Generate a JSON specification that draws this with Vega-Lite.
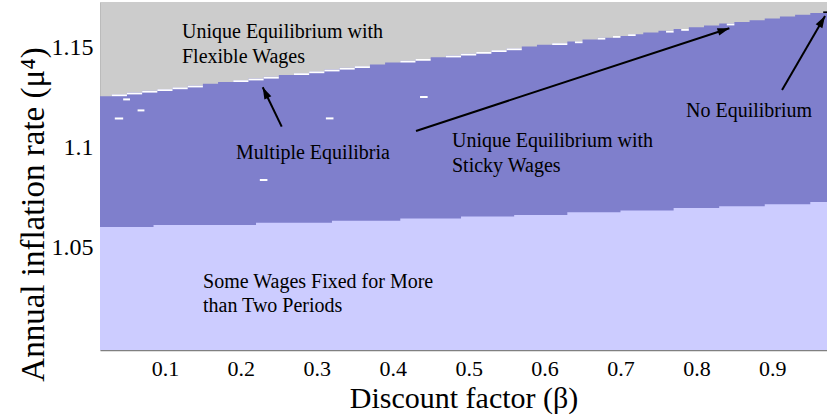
{
  "$schema": "https://vega.github.io/schema/vega-lite/v6.json",
  "width": 727,
  "height": 348,
  "autosize": "none",
  "padding": {"left": 100, "top": 2, "right": 0, "bottom": 66},
  "background": "white",
  "config": {
    "view": {"stroke": null, "fill": "#cccccc"},
    "font": "Liberation Serif",
    "axis": {"ticks": false, "tickSize": 0, "grid": false, "labelFont": "Liberation Serif", "labelFontSize": 22, "labelColor": "black",
      "titleFont": "Liberation Serif", "titleFontWeight": "normal", "titleColor": "black", "labelFlush": false, "labelOverlap": false},
    "axisX": {"labelPadding": 8, "domainColor": "#808080", "domainWidth": 1.5, "titleFontSize": 30, "titleY": 57, "titleBaseline": "alphabetic"},
    "axisY": {"labelPadding": 7, "labelFontSize": 24, "domainColor": "#aaaaaa", "domainDash": [1, 1], "titleFontSize": 33, "titleX": -57, "titleY": 212,
      "titleBaseline": "alphabetic", "titleAlign": "center", "titleAngle": -90}
  },
  "datasets": {
    "upper": [
      {"beta": 0.01, "mu": 1.1255}, {"beta": 0.03, "mu": 1.1264}, {"beta": 0.05, "mu": 1.1273}, {"beta": 0.07, "mu": 1.1282},
      {"beta": 0.09, "mu": 1.1290}, {"beta": 0.11, "mu": 1.1299}, {"beta": 0.13, "mu": 1.1308}, {"beta": 0.15, "mu": 1.1317},
      {"beta": 0.17, "mu": 1.1326}, {"beta": 0.19, "mu": 1.1335}, {"beta": 0.21, "mu": 1.1343}, {"beta": 0.23, "mu": 1.1352},
      {"beta": 0.25, "mu": 1.1361}, {"beta": 0.27, "mu": 1.1370}, {"beta": 0.29, "mu": 1.1379}, {"beta": 0.31, "mu": 1.1388},
      {"beta": 0.33, "mu": 1.1397}, {"beta": 0.35, "mu": 1.1405}, {"beta": 0.37, "mu": 1.1414}, {"beta": 0.39, "mu": 1.1423},
      {"beta": 0.41, "mu": 1.1432}, {"beta": 0.43, "mu": 1.1441}, {"beta": 0.45, "mu": 1.1450}, {"beta": 0.47, "mu": 1.1458},
      {"beta": 0.49, "mu": 1.1467}, {"beta": 0.51, "mu": 1.1476}, {"beta": 0.53, "mu": 1.1485}, {"beta": 0.55, "mu": 1.1494},
      {"beta": 0.57, "mu": 1.1503}, {"beta": 0.59, "mu": 1.1512}, {"beta": 0.61, "mu": 1.1520}, {"beta": 0.63, "mu": 1.1529},
      {"beta": 0.65, "mu": 1.1538}, {"beta": 0.67, "mu": 1.1547}, {"beta": 0.69, "mu": 1.1556}, {"beta": 0.71, "mu": 1.1565},
      {"beta": 0.73, "mu": 1.1573}, {"beta": 0.75, "mu": 1.1582}, {"beta": 0.77, "mu": 1.1591}, {"beta": 0.79, "mu": 1.1600},
      {"beta": 0.81, "mu": 1.1609}, {"beta": 0.83, "mu": 1.1618}, {"beta": 0.85, "mu": 1.1626}, {"beta": 0.87, "mu": 1.1635},
      {"beta": 0.89, "mu": 1.1644}, {"beta": 0.91, "mu": 1.1653}, {"beta": 0.93, "mu": 1.1662}, {"beta": 0.95, "mu": 1.1671},
      {"beta": 0.97, "mu": 1.1679}, {"beta": 0.99, "mu": 1.1679}
    ],
    "lower": [
      {"beta": 0.01, "mu": 1.0601}, {"beta": 0.085, "mu": 1.0611}, {"beta": 0.22, "mu": 1.0622}, {"beta": 0.32, "mu": 1.0632},
      {"beta": 0.41, "mu": 1.0644}, {"beta": 0.49, "mu": 1.0654}, {"beta": 0.56, "mu": 1.0661}, {"beta": 0.63, "mu": 1.0675},
      {"beta": 0.70, "mu": 1.0684}, {"beta": 0.77, "mu": 1.0696}, {"beta": 0.83, "mu": 1.0705}, {"beta": 0.89, "mu": 1.0715},
      {"beta": 0.95, "mu": 1.0726}, {"beta": 0.99, "mu": 1.0726}
    ],
    "cells": [
      {"kind": "multiple", "b1": 0.03, "b2": 0.05, "m1": 1.1255, "m2": 1.1264},
      {"kind": "multiple", "b1": 0.05, "b2": 0.07, "m1": 1.1264, "m2": 1.1273},
      {"kind": "multiple", "b1": 0.07, "b2": 0.09, "m1": 1.1273, "m2": 1.1282},
      {"kind": "multiple", "b1": 0.09, "b2": 0.11, "m1": 1.1281, "m2": 1.1290},
      {"kind": "multiple", "b1": 0.11, "b2": 0.13, "m1": 1.1290, "m2": 1.1299},
      {"kind": "multiple", "b1": 0.13, "b2": 0.15, "m1": 1.1299, "m2": 1.1308},
      {"kind": "multiple", "b1": 0.19, "b2": 0.21, "m1": 1.1326, "m2": 1.1335},
      {"kind": "multiple", "b1": 0.21, "b2": 0.23, "m1": 1.1334, "m2": 1.1343},
      {"kind": "multiple", "b1": 0.23, "b2": 0.25, "m1": 1.1343, "m2": 1.1352},
      {"kind": "multiple", "b1": 0.27, "b2": 0.29, "m1": 1.1361, "m2": 1.1370},
      {"kind": "multiple", "b1": 0.29, "b2": 0.31, "m1": 1.1370, "m2": 1.1379},
      {"kind": "multiple", "b1": 0.31, "b2": 0.33, "m1": 1.1379, "m2": 1.1388},
      {"kind": "multiple", "b1": 0.33, "b2": 0.35, "m1": 1.1388, "m2": 1.1397},
      {"kind": "multiple", "b1": 0.35, "b2": 0.37, "m1": 1.1396, "m2": 1.1405},
      {"kind": "multiple", "b1": 0.41, "b2": 0.43, "m1": 1.1423, "m2": 1.1432},
      {"kind": "multiple", "b1": 0.43, "b2": 0.45, "m1": 1.1432, "m2": 1.1441},
      {"kind": "multiple", "b1": 0.47, "b2": 0.49, "m1": 1.1449, "m2": 1.1458},
      {"kind": "multiple", "b1": 0.49, "b2": 0.51, "m1": 1.1458, "m2": 1.1467},
      {"kind": "multiple", "b1": 0.51, "b2": 0.53, "m1": 1.1467, "m2": 1.1476},
      {"kind": "multiple", "b1": 0.53, "b2": 0.55, "m1": 1.1476, "m2": 1.1485},
      {"kind": "multiple", "b1": 0.55, "b2": 0.57, "m1": 1.1485, "m2": 1.1494},
      {"kind": "multiple", "b1": 0.61, "b2": 0.63, "m1": 1.1511, "m2": 1.1520},
      {"kind": "multiple", "b1": 0.64, "b2": 0.65, "m1": 1.1520, "m2": 1.1529},
      {"kind": "multiple", "b1": 0.67, "b2": 0.68, "m1": 1.1538, "m2": 1.1547},
      {"kind": "multiple", "b1": 0.69, "b2": 0.70, "m1": 1.1547, "m2": 1.1556},
      {"kind": "multiple", "b1": 0.71, "b2": 0.72, "m1": 1.1556, "m2": 1.1565},
      {"kind": "multiple", "b1": 0.76, "b2": 0.77, "m1": 1.1573, "m2": 1.1582},
      {"kind": "multiple", "b1": 0.78, "b2": 0.79, "m1": 1.1582, "m2": 1.1591},
      {"kind": "multiple", "b1": 0.84, "b2": 0.85, "m1": 1.1609, "m2": 1.1618},
      {"kind": "multiple", "b1": 0.034, "b2": 0.045, "m1": 1.1139, "m2": 1.1149},
      {"kind": "multiple", "b1": 0.045, "b2": 0.054, "m1": 1.1234, "m2": 1.1244},
      {"kind": "multiple", "b1": 0.064, "b2": 0.073, "m1": 1.1179, "m2": 1.1189},
      {"kind": "multiple", "b1": 0.312, "b2": 0.322, "m1": 1.1139, "m2": 1.1149},
      {"kind": "multiple", "b1": 0.225, "b2": 0.235, "m1": 1.0831, "m2": 1.0841},
      {"kind": "multiple", "b1": 0.436, "b2": 0.446, "m1": 1.1246, "m2": 1.1256},
      {"kind": "none", "b1": 0.967, "b2": 0.975, "m1": 1.1671, "m2": 1.1679}
    ],
    "arrows": [
      {"id": "a1", "bt": 0.2538, "mt": 1.1103, "bh": 0.2288, "mh": 1.1300},
      {"id": "a2", "bt": 0.4307, "mt": 1.1081, "bh": 0.8434, "mh": 1.1595},
      {"id": "a3", "bt": 0.9128, "mt": 1.1286, "bh": 0.9694, "mh": 1.1656}
    ],
    "labels": [
      {"label": "Unique Equilibrium with", "b": 0.1225, "m": 1.1548},
      {"label": "Flexible Wages", "b": 0.1225, "m": 1.1423},
      {"label": "Multiple Equilibria", "b": 0.1936, "m": 1.0940},
      {"label": "Unique Equilibrium with", "b": 0.4781, "m": 1.1001},
      {"label": "Sticky Wages", "b": 0.4781, "m": 1.0876},
      {"label": "No Equilibrium", "b": 0.7863, "m": 1.1151},
      {"label": "Some Wages Fixed for More", "b": 0.1502, "m": 1.0296},
      {"label": "than Two Periods", "b": 0.1502, "m": 1.0176}
    ]
  },
  "layer": [
    {
      "data": {"name": "upper"},
      "mark": {"type": "area", "interpolate": "step-after", "color": "#7f7fcc", "clip": true},
      "encoding": {
        "x": {"field": "beta", "type": "quantitative", "title": "Discount factor (β)", "scale": {"domain": [0.0145, 0.972]},
          "axis": {"values": [0.1, 0.2, 0.3, 0.4, 0.5, 0.6, 0.7, 0.8, 0.9], "format": ".1f"}},
        "y": {"field": "mu", "type": "quantitative", "title": "Annual inflation rate (μ⁴)", "scale": {"domain": [0.9986, 1.1726]},
          "axis": {"values": [1.05, 1.1, 1.15], "format": ".2~f"}},
        "y2": {"datum": 0.9986}
      }
    },
    {
      "data": {"name": "lower"},
      "mark": {"type": "area", "interpolate": "step-after", "color": "#ccccff", "clip": true},
      "encoding": {
        "x": {"field": "beta", "type": "quantitative", "title": "Discount factor (β)", "scale": {"domain": [0.0145, 0.972]}},
        "y": {"field": "mu", "type": "quantitative", "title": "Annual inflation rate (μ⁴)", "scale": {"domain": [0.9986, 1.1726]}},
        "y2": {"datum": 0.9986}
      }
    },
    {
      "data": {"name": "cells"},
      "mark": {"type": "rect", "clip": true},
      "encoding": {
        "x": {"field": "b1", "type": "quantitative", "title": "Discount factor (β)", "scale": {"domain": [0.0145, 0.972]}},
        "x2": {"field": "b2"},
        "y": {"field": "m1", "type": "quantitative", "title": "Annual inflation rate (μ⁴)", "scale": {"domain": [0.9986, 1.1726]}},
        "y2": {"field": "m2"},
        "color": {"field": "kind", "type": "nominal", "scale": {"domain": ["multiple", "none"], "range": ["#ffffff", "#000000"]}, "legend": null}
      }
    },
    {
      "data": {"name": "arrows"},
      "mark": {"type": "rule", "color": "black", "strokeWidth": 2},
      "encoding": {
        "x": {"field": "bt", "type": "quantitative", "title": "Discount factor (β)", "scale": {"domain": [0.0145, 0.972]}},
        "x2": {"field": "bh"},
        "y": {"field": "mt", "type": "quantitative", "title": "Annual inflation rate (μ⁴)", "scale": {"domain": [0.9986, 1.1726]}},
        "y2": {"field": "mh"}
      }
    },
    {
      "data": {"name": "arrows"},
      "transform": [{"filter": "datum.id == 'a1'"}],
      "mark": {"type": "point", "shape": "M0,0L0.55,1.7L-0.55,1.7Z", "size": 196, "filled": true, "color": "black", "opacity": 1, "angle": 334.3},
      "encoding": {
        "x": {"field": "bh", "type": "quantitative", "title": "Discount factor (β)", "scale": {"domain": [0.0145, 0.972]}},
        "y": {"field": "mh", "type": "quantitative", "title": "Annual inflation rate (μ⁴)", "scale": {"domain": [0.9986, 1.1726]}}
      }
    },
    {
      "data": {"name": "arrows"},
      "transform": [{"filter": "datum.id == 'a2'"}],
      "mark": {"type": "point", "shape": "M0,0L0.55,1.7L-0.55,1.7Z", "size": 196, "filled": true, "color": "black", "opacity": 1, "angle": 71.8},
      "encoding": {
        "x": {"field": "bh", "type": "quantitative", "title": "Discount factor (β)", "scale": {"domain": [0.0145, 0.972]}},
        "y": {"field": "mh", "type": "quantitative", "title": "Annual inflation rate (μ⁴)", "scale": {"domain": [0.9986, 1.1726]}}
      }
    },
    {
      "data": {"name": "arrows"},
      "transform": [{"filter": "datum.id == 'a3'"}],
      "mark": {"type": "point", "shape": "M0,0L0.55,1.7L-0.55,1.7Z", "size": 196, "filled": true, "color": "black", "opacity": 1, "angle": 30.2},
      "encoding": {
        "x": {"field": "bh", "type": "quantitative", "title": "Discount factor (β)", "scale": {"domain": [0.0145, 0.972]}},
        "y": {"field": "mh", "type": "quantitative", "title": "Annual inflation rate (μ⁴)", "scale": {"domain": [0.9986, 1.1726]}}
      }
    },
    {
      "data": {"name": "labels"},
      "mark": {"type": "text", "align": "left", "baseline": "alphabetic", "fontSize": 20, "font": "Liberation Serif", "color": "black"},
      "encoding": {
        "x": {"field": "b", "type": "quantitative", "title": "Discount factor (β)", "scale": {"domain": [0.0145, 0.972]}},
        "y": {"field": "m", "type": "quantitative", "title": "Annual inflation rate (μ⁴)", "scale": {"domain": [0.9986, 1.1726]}},
        "text": {"field": "label", "type": "nominal"}
      }
    }
  ]
}
